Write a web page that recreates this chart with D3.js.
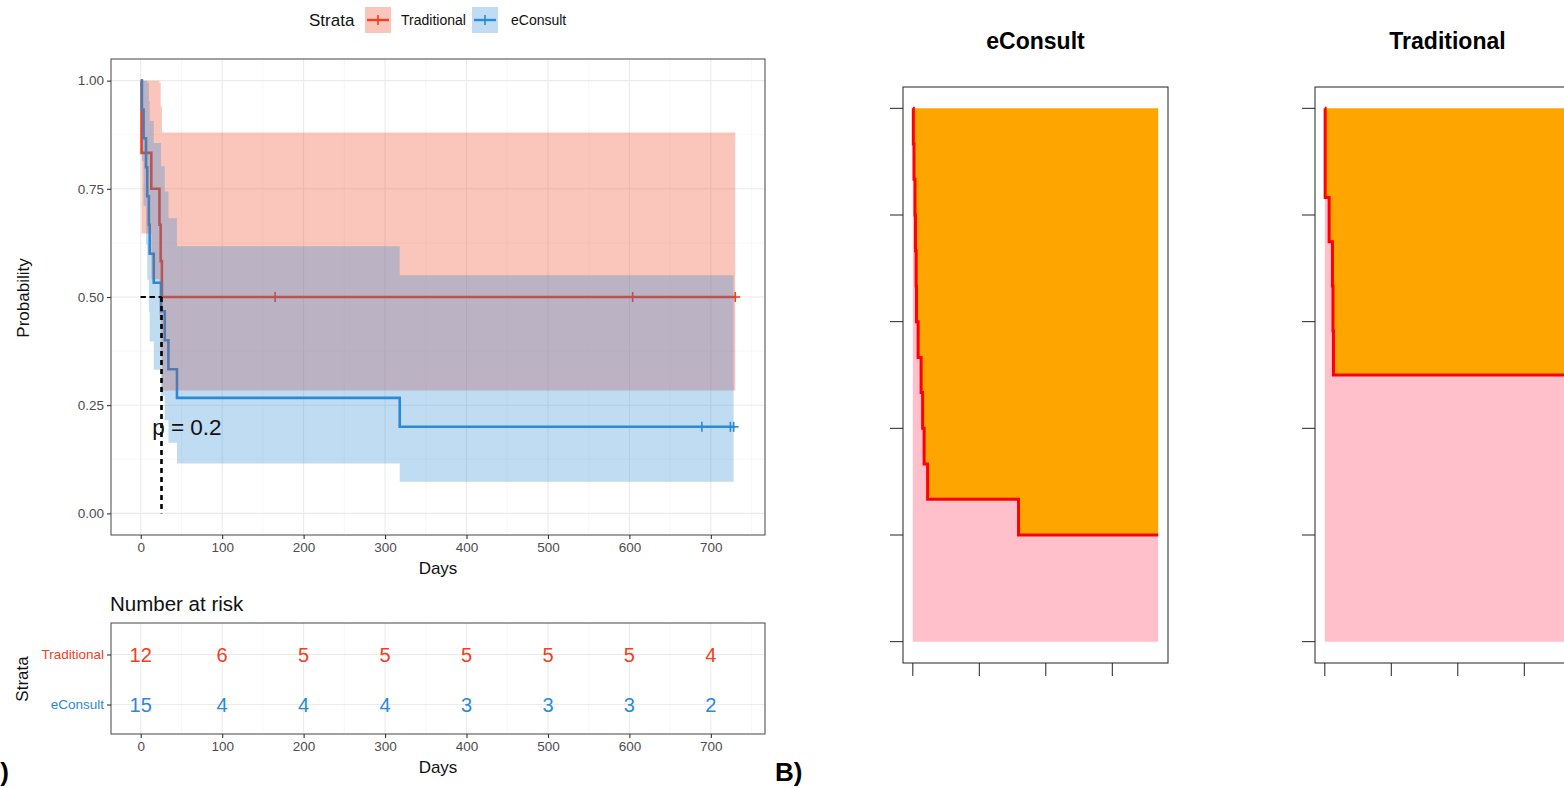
<!DOCTYPE html>
<html><head><meta charset="utf-8">
<script src="https://cdn.jsdelivr.net/npm/d3@7/dist/d3.min.js"></script>
<style>
body{margin:0;background:#fff}
svg{display:block}
text{font-family:"Liberation Sans",Arial,Helvetica,sans-serif}
</style>
</head><body>
<svg id="c" width="1564" height="788"></svg>
<script>
// ---------------- data ----------------
const strata = ["Traditional", "eConsult"];
const colors = ["#F0401E", "#2A8AD6"];

const tradTimes  = [0, 1, 13, 23, 24.5, 26, 730];
const tradSurv   = [1, 0.833, 0.75, 0.667, 0.583, 0.5, 0.5];
const tradUpper  = [1, 1, 1, 0.995, 0.941, 0.880, 0.880];
const tradLower  = [1, 0.647, 0.541, 0.447, 0.362, 0.284, 0.284];
const tradCensor = [165, 604, 730];

const econTimes  = [0, 1.5, 3.5, 6.5, 8, 10, 11, 16, 25, 29.5, 34, 44.5, 318, 728];
const econSurv   = [1, 0.933, 0.867, 0.8, 0.733, 0.667, 0.6, 0.533, 0.467, 0.4, 0.333, 0.267, 0.2, 0.2];
const econUpper  = [1, 1, 1, 1, 0.995, 0.953, 0.907, 0.856, 0.802, 0.744, 0.682, 0.617, 0.550, 0.550];
const econLower  = [1, 0.815, 0.711, 0.621, 0.540, 0.466, 0.397, 0.332, 0.272, 0.215, 0.163, 0.115, 0.073, 0.073];
const econCensor = [689, 724, 728];

const medians = [26, 25];
const pValueText = "p = 0.2";

const riskTimes = [0, 100, 200, 300, 400, 500, 600, 700];
const riskTrad  = [12, 6, 5, 5, 5, 5, 5, 4];
const riskEcon  = [15, 4, 4, 4, 3, 3, 3, 2];

const xTicks = [0, 100, 200, 300, 400, 500, 600, 700];
const yTicks = [0, 0.25, 0.5, 0.75, 1];

// right panels
const panelTitles = ["eConsult", "Traditional"];
const panelMax = 738;
const panelXTicks = [0, 200, 400, 600];
const panelYTicks = [0, 0.2, 0.4, 0.6, 0.8, 1];

// ---------------- drawing ----------------
const svg = d3.select("#c");
const xMax = 730;
const x = d3.scaleLinear().domain([-0.05 * xMax, 1.05 * xMax]).range([111, 765]);
const y = d3.scaleLinear().domain([-0.05, 1.05]).range([535, 59]);
const PL = 111, PR = 765, PT = 59, PB = 535;
const ALPHA = 0.3;

const groups = [
  {name: strata[0], col: colors[0], t: tradTimes, s: tradSurv, u: tradUpper, l: tradLower, c: tradCensor, risk: riskTrad},
  {name: strata[1], col: colors[1], t: econTimes, s: econSurv, u: econUpper, l: econLower, c: econCensor, risk: riskEcon}
];

function gridX(g, top, bottom) {
  const minor = d3.range(50, 800, 100).filter(v => x(v) < PR);
  g.selectAll(null).data(minor).join("line")
    .attr("x1", d => x(d)).attr("x2", d => x(d)).attr("y1", top).attr("y2", bottom)
    .attr("stroke", "#F2F2F2").attr("stroke-width", 0.6);
  g.selectAll(null).data(xTicks).join("line")
    .attr("x1", d => x(d)).attr("x2", d => x(d)).attr("y1", top).attr("y2", bottom)
    .attr("stroke", "#EBEBEB").attr("stroke-width", 1.1);
}

// main panel background grid
const gm = svg.append("g");
gridX(gm, PT, PB);
const yMinor = [0.125, 0.375, 0.625, 0.875];
gm.selectAll(null).data(yMinor).join("line")
  .attr("x1", PL).attr("x2", PR).attr("y1", d => y(d)).attr("y2", d => y(d))
  .attr("stroke", "#F2F2F2").attr("stroke-width", 0.6);
gm.selectAll(null).data(yTicks).join("line")
  .attr("x1", PL).attr("x2", PR).attr("y1", d => y(d)).attr("y2", d => y(d))
  .attr("stroke", "#EBEBEB").attr("stroke-width", 1.1);

const line = d3.line().curve(d3.curveStepAfter);
const area = d3.area().curve(d3.curveStepAfter);

// lines
groups.forEach(gp => {
  const pts = gp.t.map((t, i) => [x(t), y(gp.s[i])]);
  svg.append("path").attr("d", line(pts)).attr("fill", "none")
    .attr("stroke", gp.col).attr("stroke-width", 2.6);
  gp.c.forEach(ct => {
    let idx = d3.bisectRight(gp.t, ct) - 1; idx = Math.max(0, Math.min(idx, gp.s.length - 1));
    const cx = x(ct), cy = y(gp.s[idx]);
    svg.append("line").attr("x1", cx).attr("x2", cx).attr("y1", cy - 5).attr("y2", cy + 5)
      .attr("stroke", gp.col).attr("stroke-width", 1.6);
    svg.append("line").attr("x1", cx - 5).attr("x2", cx + 5).attr("y1", cy).attr("y2", cy)
      .attr("stroke", gp.col).attr("stroke-width", 1.6);
  });
});
// ribbons
groups.forEach(gp => {
  const a = area.x((d, i) => x(gp.t[i])).y0((d, i) => y(gp.l[i])).y1((d, i) => y(gp.u[i]));
  svg.append("path").attr("d", a(gp.t)).attr("fill", gp.col).attr("fill-opacity", ALPHA);
});

// median lines
medians.forEach(m => {
  svg.append("line").attr("x1", x(0)).attr("x2", x(m)).attr("y1", y(0.5)).attr("y2", y(0.5))
    .attr("stroke", "#000").attr("stroke-width", 1.8).attr("stroke-dasharray", "5,4");
  svg.append("line").attr("x1", x(m)).attr("x2", x(m)).attr("y1", y(0.5)).attr("y2", y(0))
    .attr("stroke", "#000").attr("stroke-width", 1.8).attr("stroke-dasharray", "5,4");
});

// p-value
svg.append("text").attr("x", x(14)).attr("y", y(0.2)).attr("dy", "0.36em")
  .attr("font-size", 22.5).attr("fill", "#111").text(pValueText);

// panel border
svg.append("rect").attr("x", PL).attr("y", PT).attr("width", PR - PL).attr("height", PB - PT)
  .attr("fill", "none").attr("stroke", "#555").attr("stroke-width", 1.1);

// axes
function styleAxis(g) {
  g.select(".domain").remove();
  g.selectAll(".tick line").attr("stroke", "#333").attr("stroke-width", 1.1);
  g.selectAll(".tick text").attr("fill", "#4D4D4D").attr("font-size", 13.5)
    .attr("font-family", "'Liberation Sans',Arial,sans-serif");
}
svg.append("g").attr("transform", `translate(0,${PB})`)
  .call(d3.axisBottom(x).tickValues(xTicks).tickSize(4).tickPadding(3).tickFormat(d3.format("d")))
  .call(styleAxis);
svg.append("g").attr("transform", `translate(${PL},0)`)
  .call(d3.axisLeft(y).tickValues(yTicks).tickSize(4).tickPadding(3).tickFormat(d3.format(".2f")))
  .call(styleAxis);
svg.append("text").attr("x", (PL + PR) / 2).attr("y", 574).attr("text-anchor", "middle")
  .attr("font-size", 17).attr("fill", "#111").text("Days");
svg.append("text").attr("transform", "translate(29,298) rotate(-90)").attr("text-anchor", "middle")
  .attr("font-size", 17).attr("fill", "#111").text("Probability");

// legend
const lg = svg.append("g");
lg.append("text").attr("x", 309).attr("y", 26).attr("font-size", 17).attr("fill", "#111").text("Strata");
const legX = [365, 472], legTX = [401, 511];
groups.forEach((gp, i) => {
  lg.append("rect").attr("x", legX[i]).attr("y", 7).attr("width", 26).attr("height", 26)
    .attr("fill", gp.col).attr("fill-opacity", ALPHA);
  lg.append("line").attr("x1", legX[i] + 2).attr("x2", legX[i] + 24).attr("y1", 20).attr("y2", 20)
    .attr("stroke", gp.col).attr("stroke-width", 2.4);
  lg.append("line").attr("x1", legX[i] + 13).attr("x2", legX[i] + 13).attr("y1", 15).attr("y2", 25)
    .attr("stroke", gp.col).attr("stroke-width", 1.6);
  lg.append("text").attr("x", legTX[i]).attr("y", 25).attr("font-size", 14).attr("fill", "#111").text(gp.name);
});

// ---------------- risk table ----------------
const RT = 623, RB = 734;
const yr = d3.scalePoint().domain(strata).range([654.5, 704.5]);
svg.append("text").attr("x", 110).attr("y", 611).attr("font-size", 20.5).attr("fill", "#111").text("Number at risk");
const gr = svg.append("g");
gridX(gr, RT, RB);
gr.selectAll(null).data(strata).join("line")
  .attr("x1", PL).attr("x2", PR).attr("y1", d => yr(d)).attr("y2", d => yr(d))
  .attr("stroke", "#EBEBEB").attr("stroke-width", 1.1);
groups.forEach(gp => {
  gr.selectAll(null).data(riskTimes).join("text")
    .attr("x", d => x(d)).attr("y", yr(gp.name)).attr("dy", "0.36em").attr("text-anchor", "middle")
    .attr("font-size", 20).attr("fill", gp.col).text((d, i) => gp.risk[i]);
});
svg.append("rect").attr("x", PL).attr("y", RT).attr("width", PR - PL).attr("height", RB - RT)
  .attr("fill", "none").attr("stroke", "#555").attr("stroke-width", 1.1);
svg.append("g").attr("transform", `translate(0,${RB})`)
  .call(d3.axisBottom(x).tickValues(xTicks).tickSize(4).tickPadding(3).tickFormat(d3.format("d")))
  .call(styleAxis);
const ay = svg.append("g").attr("transform", `translate(${PL},0)`)
  .call(d3.axisLeft(yr).tickSize(4).tickPadding(3)).call(styleAxis);
ay.selectAll(".tick text").attr("fill", (d, i) => colors[i]).attr("font-size", 13.5);
svg.append("text").attr("x", (PL + PR) / 2).attr("y", 773).attr("text-anchor", "middle")
  .attr("font-size", 17).attr("fill", "#111").text("Days");
svg.append("text").attr("transform", "translate(28,679) rotate(-90)").attr("text-anchor", "middle")
  .attr("font-size", 17).attr("fill", "#111").text("Strata");

// ---------------- right panels ----------------
const panels = [
  {title: panelTitles[0], x0: 903, t: econTimes, s: econSurv},
  {title: panelTitles[1], x0: 1315, t: tradTimes, s: tradSurv}
];
panels.forEach(p => {
  const W = 265, T = 87, B = 663;
  const xs = d3.scaleLinear().domain([-0.04 * panelMax, 1.04 * panelMax]).range([p.x0, p.x0 + W]);
  const ys = d3.scaleLinear().domain([-0.04, 1.04]).range([B, T]);
  const tt = p.t.slice(); tt[tt.length - 1] = panelMax;
  const below = d3.area().curve(d3.curveStepAfter)
    .x((d, i) => xs(tt[i])).y0(ys(0)).y1((d, i) => ys(p.s[i]));
  const above = d3.area().curve(d3.curveStepAfter)
    .x((d, i) => xs(tt[i])).y0((d, i) => ys(p.s[i])).y1(ys(1));
  svg.append("path").attr("d", below(tt)).attr("fill", "#FFC0CB");
  svg.append("path").attr("d", above(tt)).attr("fill", "#FFA500");
  const ln = d3.line().curve(d3.curveStepAfter).x((d, i) => xs(tt[i])).y((d, i) => ys(p.s[i]));
  svg.append("path").attr("d", ln(tt)).attr("fill", "none").attr("stroke", "#FF0000")
    .attr("stroke-width", 3);
  svg.append("rect").attr("x", p.x0).attr("y", T).attr("width", W).attr("height", B - T)
    .attr("fill", "none").attr("stroke", "#222").attr("stroke-width", 1);
  svg.append("g").selectAll(null).data(panelYTicks).join("line")
    .attr("x1", p.x0 - 13).attr("x2", p.x0).attr("y1", d => ys(d)).attr("y2", d => ys(d))
    .attr("stroke", "#222").attr("stroke-width", 1);
  svg.append("g").selectAll(null).data(panelXTicks).join("line")
    .attr("x1", d => xs(d)).attr("x2", d => xs(d)).attr("y1", B).attr("y2", B + 13)
    .attr("stroke", "#222").attr("stroke-width", 1);
  svg.append("text").attr("x", p.x0 + W / 2).attr("y", 49).attr("text-anchor", "middle")
    .attr("font-size", 23).attr("font-weight", "bold").attr("fill", "#000").text(p.title);
});

// panel labels
svg.append("text").attr("x", 9).attr("y", 781).attr("text-anchor", "end")
  .attr("font-family", "'Liberation Serif','Times New Roman',serif").attr("font-weight", "bold")
  .attr("font-size", 26).attr("fill", "#000").text("A)");
svg.append("text").attr("x", 775).attr("y", 781)
  .attr("font-family", "'Liberation Serif','Times New Roman',serif").attr("font-weight", "bold")
  .attr("font-size", 26).attr("fill", "#000").text("B)");
</script>
</body></html>
